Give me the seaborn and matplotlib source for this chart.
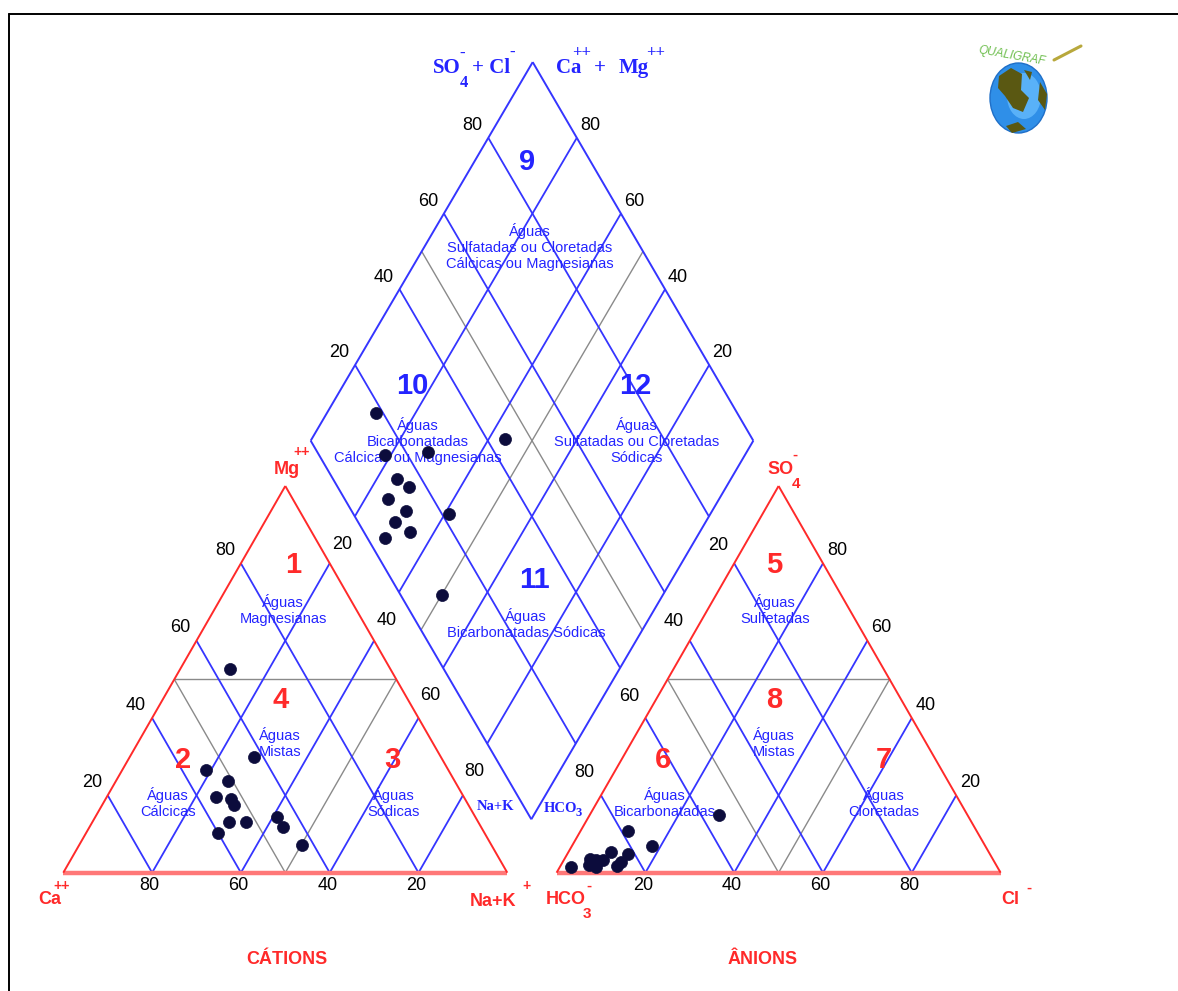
import numpy as np
import pandas as pd
import matplotlib
matplotlib.use("Agg")
import matplotlib.pyplot as plt
from matplotlib.patches import Ellipse, Polygon
import seaborn as sns

# ---------------- sample chemistry (% of meq/L) ----------------
samples  = [f"P{i:02d}" for i in range(1, 14)]
ca_pct   = [36.2, 54.6, 42.1, 44.7, 55.8, 52.7, 51.0, 56.1, 44.6, 52.9, 52.4, 60.0, 42.7]
mg_pct   = [52.7, 26.6, 30.0, 11.7, 19.7, 19.0, 23.8, 13.1, 14.5, 17.4, 13.1, 10.2, 7.2]
nak_pct  = [11.1, 18.8, 27.9, 43.6, 24.5, 28.3, 25.2, 30.8, 40.9, 29.7, 34.5, 29.8, 50.1]
hco3_pct = [81.5, 85.1, 75.1, 56.0, 85.6, 84.0, 90.3, 87.8, 78.5, 91.7, 89.5, 96.0, 90.7]
so4_pct  = [4.8, 5.4, 6.9, 14.9, 1.8, 2.8, 1.6, 3.3, 10.8, 2.0, 3.3, 1.6, 3.5]
cl_pct   = [13.7, 9.5, 18.0, 29.1, 12.6, 13.2, 8.1, 8.9, 10.7, 6.3, 7.2, 2.4, 5.8]

grid_ticks = [20, 40, 60, 80]
split_value = 50

# ---------------- page layout (pixels -> diagram units) ----------------
W, H = 1178, 991
SX, SY = 4.44, 4.465          # pixels per diagram unit
OX, OY = 63.3, 872.7          # Ca vertex of the cation triangle
R3 = np.sqrt(3) / 2
ANION_SHIFT = 111.1
D_BOT = np.array([105.41, 11.96])
D_LEFT = np.array([55.72, 96.75])
D_RIGHT = np.array([155.41, 96.75])

BLUE = "#3535ff"
TXT_BLUE = "#2424ff"
RED = "#ff2a2a"
GRAY = "#8a8a8a"
DOT = "#0c0c3c"


def px(x, y):
    return (x - OX) / SX, (OY - y) / SY


def cation_xy(na, mg):
    na = np.atleast_1d(np.asarray(na, float)); mg = np.atleast_1d(np.asarray(mg, float))
    return na + 0.5 * mg, R3 * mg


def anion_xy(cl, so4):
    cl = np.atleast_1d(np.asarray(cl, float)); so4 = np.atleast_1d(np.asarray(so4, float))
    return ANION_SHIFT + cl + 0.5 * so4, R3 * so4


def diamond_xy(cat, an):
    cat = np.atleast_1d(np.asarray(cat, float)) / 100
    an = np.atleast_1d(np.asarray(an, float)) / 100
    x = D_BOT[0] + (D_LEFT[0] - D_BOT[0]) * cat + (D_RIGHT[0] - D_BOT[0]) * an
    y = D_BOT[1] + (D_LEFT[1] - D_BOT[1]) * cat + (D_RIGHT[1] - D_BOT[1]) * an
    return x, y


sns.set_style("white")
plt.rcParams["font.family"] = ["Liberation Sans", "DejaVu Sans"]

fig = plt.figure(figsize=(W / 100, H / 100), dpi=100)
ax = fig.add_axes([0, 0, 1, 1])
x0, y1 = px(0, 0)
x1, y0 = px(W, H)
ax.set_xlim(x0, x1)
ax.set_ylim(y0, y1)
ax.axis("off")


def seg(p, q, color, lw, z=2):
    ax.plot([p[0][0], q[0][0]], [p[1][0], q[1][0]], color=color, lw=lw,
            solid_capstyle="butt", zorder=z)


def label(pos, dx, dy, s, **kw):
    kw.setdefault("fontsize", 13)
    kw.setdefault("color", "black")
    ax.text(pos[0][0] + dx / SX, pos[1][0] - dy / SY, s, ha="center", va="center", **kw)


def ptext(x, y, s, **kw):
    xx, yy = px(x, y)
    ax.text(xx, yy, s, ha="center", va="center", **kw)


# ---------------- page frame ----------------
fx0, fy0 = px(9.3, 14.3)
ax.plot([fx0, x1], [fy0, fy0], color="black", lw=1.4, zorder=1, clip_on=False)
ax.plot([fx0, fx0], [fy0, y0], color="black", lw=1.4, zorder=1, clip_on=False)

# ---------------- cation triangle ----------------
seg(cation_xy(split_value, 0), cation_xy(0, split_value), GRAY, 1.0)
seg(cation_xy(split_value, 0), cation_xy(split_value, split_value), GRAY, 1.0)
seg(cation_xy(0, split_value), cation_xy(split_value, split_value), GRAY, 1.0)
for v in grid_ticks:
    seg(cation_xy(100 - v, 0), cation_xy(0, 100 - v), BLUE, 1.3)      # constant Ca
    seg(cation_xy(v, 0), cation_xy(v, 100 - v), BLUE, 1.3)            # constant Na+K
seg(cation_xy(0, 0), cation_xy(100, 0), "#ff7878", 3.2, 3)
seg(cation_xy(0, 0), cation_xy(0, 100), RED, 1.4, 3)
seg(cation_xy(100, 0), cation_xy(0, 100), RED, 1.4, 3)

# ---------------- anion triangle ----------------
seg(anion_xy(split_value, 0), anion_xy(0, split_value), GRAY, 1.0)
seg(anion_xy(split_value, 0), anion_xy(split_value, split_value), GRAY, 1.0)
seg(anion_xy(0, split_value), anion_xy(split_value, split_value), GRAY, 1.0)
for v in grid_ticks:
    seg(anion_xy(v, 0), anion_xy(0, v), BLUE, 1.3)                    # constant HCO3
    seg(anion_xy(v, 0), anion_xy(v, 100 - v), BLUE, 1.3)              # constant Cl
seg(anion_xy(0, 0), anion_xy(100, 0), "#ff7878", 3.2, 3)
seg(anion_xy(0, 0), anion_xy(0, 100), RED, 1.4, 3)
seg(anion_xy(100, 0), anion_xy(0, 100), RED, 1.4, 3)

# ---------------- diamond ----------------
seg(diamond_xy(split_value, 0), diamond_xy(split_value, 100), GRAY, 1.0)
seg(diamond_xy(0, split_value), diamond_xy(100, split_value), GRAY, 1.0)
for v in grid_ticks:
    seg(diamond_xy(v, 0), diamond_xy(v, 100), BLUE, 1.3)
    seg(diamond_xy(0, v), diamond_xy(100, v), BLUE, 1.3)
for c0, a0, c1, a1 in [(0, 0, 100, 0), (100, 0, 100, 100), (100, 100, 0, 100), (0, 100, 0, 0)]:
    seg(diamond_xy(c0, a0), diamond_xy(c1, a1), BLUE, 1.4, 3)

# ---------------- tick labels ----------------
for v in grid_ticks:
    label(cation_xy(100 - v, 0), -2.5, 12.5, str(v))          # Ca
    label(cation_xy(0, v), -16, -13, str(v))                  # Mg
    label(anion_xy(v, 0), -2.5, 12.5, str(v))                 # Cl
    label(anion_xy(100 - v, v), 14, -13, str(v))              # SO4
    label(diamond_xy(100, v), -16, -12, str(v))               # SO4 + Cl
    label(diamond_xy(v, 100), 13, -12, str(v))                # Ca + Mg
    label(diamond_xy(100 - v, 0), -12.5, 28, str(v))          # Na + K
    label(diamond_xy(0, 100 - v), 9, 29, str(v))              # HCO3

# ---------------- classification fields ----------------
num_kw = dict(fontsize=21, fontweight="bold")
txt_kw = dict(fontsize=10.5, color=TXT_BLUE, linespacing=1.15)
fields = [
    ("9", BLUE, 527, 162, "Águas\nSulfatadas ou Cloretadas\nCálcicas ou Magnesianas", 530, 247),
    ("10", BLUE, 412, 386, "Águas\nBicarbonatadas\nCálcicas ou Magnesianas", 418, 441),
    ("12", BLUE, 635, 386, "Águas\nSulfatadas ou Cloretadas\nSódicas", 637, 441),
    ("11", BLUE, 534, 580, "Águas\nBicarbonatadas Sódicas", 526, 624),
    ("1", RED, 293, 565, "Águas\nMagnesianas", 283, 610),
    ("4", RED, 281, 700, "Águas\nMistas", 280, 743),
    ("2", RED, 183, 760, "Águas\nCálcicas", 168, 803),
    ("3", RED, 392, 760, "Águas\nSódicas", 394, 803),
    ("5", RED, 774, 565, "Águas\nSulfetadas", 775, 610),
    ("8", RED, 774, 700, "Águas\nMistas", 774, 743),
    ("6", RED, 663, 760, "Águas\nBicarbonatadas", 665, 803),
    ("7", RED, 884, 760, "Águas\nCloretadas", 884, 803),
]
for num, col, nx, ny, desc, tx, ty in fields:
    ptext(nx, ny, num, color=col if col == RED else TXT_BLUE, zorder=6, **num_kw)
    ptext(tx, ty, desc, zorder=6, **txt_kw)

# ---------------- vertex / axis titles ----------------
red_kw = dict(color=RED, fontweight="bold", zorder=6)
ptext(286.7, 469, "Mg", fontsize=13, **red_kw)
ptext(302, 452, "++", fontsize=10, **red_kw)
ptext(50, 900, "Ca", fontsize=13, **red_kw)
ptext(62, 886, "++", fontsize=10, **red_kw)
ptext(493, 901, "Na+K", fontsize=13, **red_kw)
ptext(527, 886, "+", fontsize=10, **red_kw)
ptext(781, 469, "SO", fontsize=13, **red_kw)
ptext(796, 484, "4", fontsize=11, **red_kw)
ptext(795, 455, "-", fontsize=11, **red_kw)
ptext(566, 900, "HCO", fontsize=13, **red_kw)
ptext(587, 914, "3", fontsize=11, **red_kw)
ptext(589, 886, "-", fontsize=11, **red_kw)
ptext(1010, 900, "Cl", fontsize=13, **red_kw)
ptext(1029, 888, "-", fontsize=11, **red_kw)
ptext(287, 960, "CÁTIONS", fontsize=13, **red_kw)
ptext(763, 960, "ÂNIONS", fontsize=13, **red_kw)

serif_kw = dict(color=TXT_BLUE, fontweight="bold", family=["Liberation Serif", "DejaVu Serif"], zorder=6)
ptext(447, 68, "SO", fontsize=15, **serif_kw)
ptext(463.5, 83, "4", fontsize=12, **serif_kw)
ptext(462, 54, "-", fontsize=12, **serif_kw)
ptext(491, 68, "+ Cl", fontsize=15, **serif_kw)
ptext(512, 53, "-", fontsize=12, **serif_kw)
ptext(569, 68, "Ca", fontsize=15, **serif_kw)
ptext(582, 53, "++", fontsize=12, **serif_kw)
ptext(600, 68, "+", fontsize=15, **serif_kw)
ptext(634, 68, "Mg", fontsize=15, **serif_kw)
ptext(656, 53, "++", fontsize=12, **serif_kw)
ptext(495, 807, "Na+K", fontsize=10.5, **serif_kw)
ptext(560, 808, "HCO", fontsize=10.5, **serif_kw)
ptext(579, 813, "3", fontsize=9, **serif_kw)

# ---------------- samples ----------------
cat_sum = np.array(ca_pct) + np.array(mg_pct)
an_sum = np.array(so4_pct) + np.array(cl_pct)
cx, cy = cation_xy(nak_pct, mg_pct)
axx, ayy = anion_xy(cl_pct, so4_pct)
dx, dy = diamond_xy(cat_sum, an_sum)
pts = pd.DataFrame({
    "sample": samples * 3,
    "x": np.concatenate([cx, axx, dx]),
    "y": np.concatenate([cy, ayy, dy]),
    "field": ["cations"] * 13 + ["anions"] * 13 + ["diamond"] * 13,
})
sns.scatterplot(data=pts, x="x", y="y", ax=ax, color=DOT, s=75,
                edgecolor=DOT, linewidth=0.5, legend=False, zorder=8)
ax.set_xlabel("")
ax.set_ylabel("")
ax.set_xlim(x0, x1)
ax.set_ylim(y0, y1)

# ---------------- logo ----------------
ex, ey = px(1018.5, 98)
ax.add_patch(Ellipse((ex, ey), 57 / SX, 70 / SY, facecolor="#2f8fe8",
                     edgecolor="#1f6fc8", lw=1, zorder=6))
hx, hy = px(1024, 96)
ax.add_patch(Ellipse((hx, hy), 34 / SX, 46 / SY, facecolor="#6cc0ff",
                     edgecolor="none", alpha=0.7, zorder=6))
for blob in [
    [(999, 76), (1011, 68), (1022, 74), (1021, 90), (1029, 98), (1023, 112), (1013, 108), (1005, 96), (998, 88)],
    [(1006, 126), (1018, 122), (1026, 129), (1012, 133)],
    [(1040, 82), (1047, 94), (1045, 110), (1038, 100)],
    [(1024, 70), (1032, 72), (1030, 80)],
]:
    ax.add_patch(Polygon([px(a, b) for a, b in blob], closed=True,
                         facecolor="#5a5812", edgecolor="none", zorder=7))
ptext(1012, 56, "QUALIGRAF", fontsize=8.5, color="#6fbf4f", style="italic",
      rotation=-10, zorder=7)
p0, p1 = px(1054, 60), px(1081, 46)
ax.plot([p0[0], p1[0]], [p0[1], p1[1]], color="#b8a83c", lw=2.2, zorder=7)

fig.savefig("out.png", dpi=100)
